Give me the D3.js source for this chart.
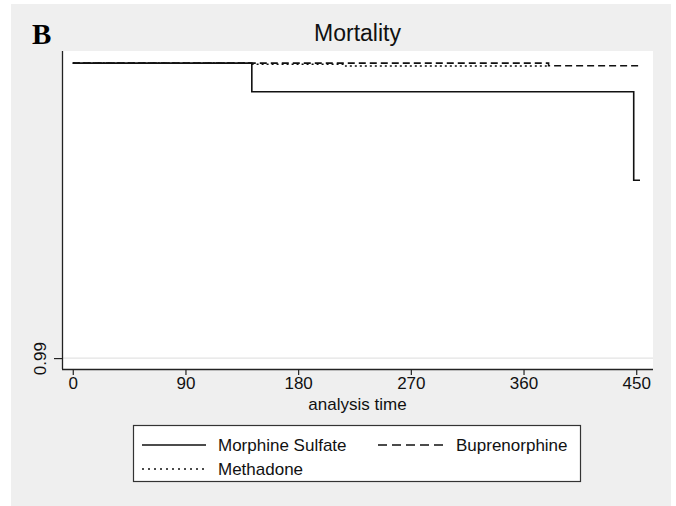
<!DOCTYPE html>
<html><head><meta charset="utf-8">
<script src="https://cdn.jsdelivr.net/npm/d3@7/dist/d3.min.js"></script>
<style>body{margin:0;background:#fff}svg{display:block}</style>
</head><body>
<svg id="chart" width="676" height="506"></svg>
<script>
// Data (Kaplan-Meier survival estimates)
const morphineTimes = [0, 143, 448, 453];
const morphineSurv  = [1, 0.99903, 0.99603, 0.99603];
const bupreTimes    = [0, 380, 452];
const bupreSurv     = [1, 0.99991, 0.99991];
const methaTimes    = [0, 143, 218, 379];
const methaSurv     = [1, 0.99996, 0.99990, 0.99990];
const xTicks = [0, 90, 180, 270, 360, 450];
const yTicks = [0.99];
const seriesNames = ["Morphine Sulfate", "Buprenorphine", "Methadone"];

const FONT = "'Liberation Sans', Arial, sans-serif";
const svg = d3.select("#chart");

// background panel
svg.append("rect").attr("x", 11).attr("y", 4).attr("width", 660).attr("height", 502).attr("fill", "#efefef");

const plot = {left: 62, right: 653, top: 51, bottom: 369};
svg.append("rect").attr("x", plot.left).attr("y", plot.top)
  .attr("width", plot.right - plot.left).attr("height", plot.bottom - plot.top).attr("fill", "#fff");

const x = d3.scaleLinear().domain([-8.6, 463.4]).range([plot.left, plot.right]);
const y = d3.scaleLinear().domain([0.98963, 1.00041]).range([plot.bottom, plot.top]);

// gridline
svg.append("g").selectAll("line").data(yTicks).join("line")
  .attr("x1", plot.left).attr("x2", plot.right)
  .attr("y1", d => y(d)).attr("y2", d => y(d))
  .attr("stroke", "#e3e3e3").attr("stroke-width", 1.2);

// axes
const xAxis = svg.append("g").attr("transform", `translate(0,${plot.bottom})`)
  .call(d3.axisBottom(x).tickValues(xTicks).tickSize(6).tickPadding(2).tickSizeOuter(0));
xAxis.select(".domain").attr("stroke", "#222").attr("stroke-width", 1.3)
  .attr("d", `M${plot.left},0.5H${plot.right}`);
xAxis.selectAll(".tick line").attr("stroke", "#222").attr("stroke-width", 1.2);
xAxis.selectAll(".tick text").attr("font-family", FONT).attr("font-size", 17).attr("fill", "#111");

const yAxis = svg.append("g").attr("transform", `translate(${plot.left},0)`)
  .call(d3.axisLeft(y).tickValues(yTicks).tickSize(8).tickFormat(d3.format(".2f")).tickSizeOuter(0));
yAxis.select(".domain").attr("stroke", "#222").attr("stroke-width", 1.3)
  .attr("d", `M0.5,${plot.top}V${plot.bottom}`);
yAxis.selectAll(".tick line").attr("stroke", "#222").attr("stroke-width", 1.2);
yAxis.selectAll(".tick text")
  .attr("font-family", FONT).attr("font-size", 17).attr("fill", "#111")
  .attr("x", null).attr("dy", null)
  .attr("text-anchor", "middle")
  .attr("transform", "translate(-16.5,0) rotate(-90)");

// lines
const line = d3.line().x(d => x(d[0])).y(d => y(d[1])).curve(d3.curveStepAfter);
const zip = (t, s) => t.map((v, i) => [v, s[i]]);
const series = [
  {name: seriesNames[0], pts: zip(morphineTimes, morphineSurv), dash: null},
  {name: seriesNames[2], pts: zip(methaTimes, methaSurv), dash: "2,3"},
  {name: seriesNames[1], pts: zip(bupreTimes, bupreSurv), dash: "7,4"}
];
svg.append("g").selectAll("path").data(series).join("path")
  .attr("d", d => line(d.pts))
  .attr("fill", "none").attr("stroke", "#111").attr("stroke-width", 1.6)
  .attr("stroke-dasharray", d => d.dash);

// titles
svg.append("text").attr("x", 357.5).attr("y", 41).attr("text-anchor", "middle")
  .attr("font-family", FONT).attr("font-size", 23).attr("fill", "#111").text("Mortality");
svg.append("text").attr("x", 32).attr("y", 44)
  .attr("font-family", "'Liberation Serif', 'Times New Roman', serif").attr("font-weight", "bold")
  .attr("font-size", 29).attr("fill", "#000").text("B");
svg.append("text").attr("x", 357.5).attr("y", 410).attr("text-anchor", "middle")
  .attr("font-family", FONT).attr("font-size", 17).attr("fill", "#111").text("analysis time");

// legend
const lg = svg.append("g");
lg.append("rect").attr("x", 133.5).attr("y", 425.5).attr("width", 447).attr("height", 56)
  .attr("fill", "#fff").attr("stroke", "#333").attr("stroke-width", 1.2);
const legendItems = [
  {name: seriesNames[0], dash: null, lx: 142, lw: 64, ty: 451, ly: 445},
  {name: seriesNames[1], dash: "9,5", lx: 378, lw: 66, ty: 451, ly: 445},
  {name: seriesNames[2], dash: "2,4", lx: 142, lw: 64, ty: 475, ly: 469}
];
lg.selectAll("line").data(legendItems).join("line")
  .attr("x1", d => d.lx).attr("x2", d => d.lx + d.lw)
  .attr("y1", d => d.ly).attr("y2", d => d.ly)
  .attr("stroke", "#111").attr("stroke-width", 1.5).attr("stroke-dasharray", d => d.dash);
lg.selectAll("text").data(legendItems).join("text")
  .attr("x", d => d.lx + d.lw + 12).attr("y", d => d.ty)
  .attr("font-family", FONT).attr("font-size", 17).attr("fill", "#111").text(d => d.name);
</script>
</body></html>
